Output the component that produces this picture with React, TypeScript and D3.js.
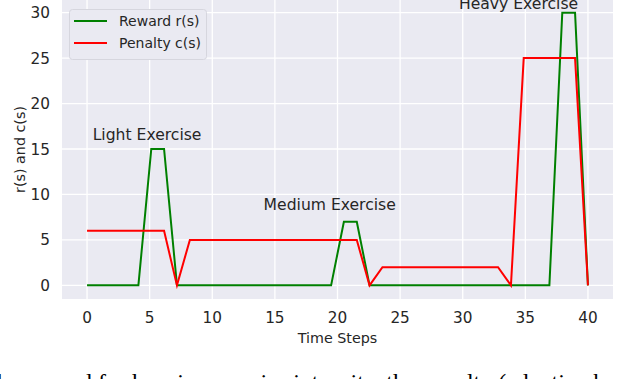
import { useEffect, useRef } from 'react';
import * as d3 from 'd3';

// time axis: 40 samples spread evenly over 0..40
const timeSteps = [
  0, 1.03, 2.05, 3.08, 4.1, 5.13, 6.15, 7.18, 8.21, 9.23,
  10.26, 11.28, 12.31, 13.33, 14.36, 15.38, 16.41, 17.44, 18.46, 19.49,
  20.51, 21.54, 22.56, 23.59, 24.62, 25.64, 26.67, 27.69, 28.72, 29.74,
  30.77, 31.79, 32.82, 33.85, 34.87, 35.9, 36.92, 37.95, 38.97, 40,
];

const reward = [
  0, 0, 0, 0, 0, 15, 15, 0, 0, 0,
  0, 0, 0, 0, 0, 0, 0, 0, 0, 0,
  7, 7, 0, 0, 0, 0, 0, 0, 0, 0,
  0, 0, 0, 0, 0, 0, 0, 30, 30, 0,
];

const penalty = [
  6, 6, 6, 6, 6, 6, 6, 0, 5, 5,
  5, 5, 5, 5, 5, 5, 5, 5, 5, 5,
  5, 5, 0, 2, 2, 2, 2, 2, 2, 2,
  2, 2, 2, 0, 25, 25, 25, 25, 25, 0,
];

const seriesNames = ['Reward r(s)', 'Penalty c(s)'];
const seriesColors = ['#008000', '#ff0000'];

const annotationLabels = ['Light Exercise', 'Medium Exercise', 'Heavy Exercise'];
const annotationX = [0.45, 14.1, 29.7];
const annotationY = [16, 8.25, 30.45];

const xTicks = [0, 5, 10, 15, 20, 25, 30, 35, 40];
const yTicks = [0, 5, 10, 15, 20, 25, 30];

const font = '"DejaVu Sans", sans-serif';

const App = () => {
  const svgRef = useRef<SVGSVGElement>(null);

  useEffect(() => {
    const svg = d3.select(svgRef.current);
    svg.selectAll('*').remove();

    const left = 62, right = 613, top = -1, bottom = 299;

    const x = d3.scaleLinear().domain([-2, 42]).range([left, right]);
    const y = d3.scaleLinear().domain([-1.5, 31.5]).range([bottom, top]);

    svg.append('rect')
      .attr('width', 640).attr('height', 379).attr('fill', '#fff');

    // axes background
    svg.append('rect')
      .attr('x', left).attr('y', top)
      .attr('width', right - left).attr('height', bottom - top)
      .attr('fill', '#EAEAF2');

    // grid
    const grid = svg.append('g').attr('stroke', '#fff').attr('stroke-width', 1.3);
    xTicks.forEach(t => {
      grid.append('line')
        .attr('x1', x(t)).attr('x2', x(t))
        .attr('y1', top).attr('y2', bottom);
    });
    yTicks.forEach(t => {
      grid.append('line')
        .attr('x1', left).attr('x2', right)
        .attr('y1', y(t)).attr('y2', y(t));
    });

    // tick labels
    svg.append('g')
      .selectAll('text')
      .data(xTicks)
      .join('text')
      .attr('x', d => x(d))
      .attr('y', 323)
      .attr('text-anchor', 'middle')
      .attr('font-family', font)
      .attr('font-size', 15.3)
      .attr('fill', '#262626')
      .text(d => d);

    svg.append('g')
      .selectAll('text')
      .data(yTicks)
      .join('text')
      .attr('x', 50)
      .attr('y', d => y(d))
      .attr('dy', '0.36em')
      .attr('text-anchor', 'end')
      .attr('font-family', font)
      .attr('font-size', 15.3)
      .attr('fill', '#262626')
      .text(d => d);

    // axis labels
    svg.append('text')
      .attr('x', (left + right) / 2)
      .attr('y', 343)
      .attr('text-anchor', 'middle')
      .attr('font-family', font)
      .attr('font-size', 14.3)
      .attr('fill', '#262626')
      .text('Time Steps');

    svg.append('text')
      .attr('transform', `translate(25, ${(0 + bottom) / 2}) rotate(-90)`)
      .attr('text-anchor', 'middle')
      .attr('font-family', font)
      .attr('font-size', 14.3)
      .attr('fill', '#262626')
      .text('r(s) and c(s)');

    // lines
    const line = d3.line<number>()
      .x((_, i) => x(timeSteps[i]))
      .y(d => y(d));

    [reward, penalty].forEach((values, i) => {
      svg.append('path')
        .datum(values)
        .attr('d', line)
        .attr('fill', 'none')
        .attr('stroke', seriesColors[i])
        .attr('stroke-width', 2)
        .attr('stroke-linejoin', 'miter');
    });

    // annotations
    annotationLabels.forEach((label, i) => {
      svg.append('text')
        .attr('x', x(annotationX[i]))
        .attr('y', y(annotationY[i]))
        .attr('font-family', font)
        .attr('font-size', 15.6)
        .attr('fill', '#262626')
        .text(label);
    });

    // legend
    const legend = svg.append('g');
    legend.append('rect')
      .attr('x', 69.5).attr('y', 9.5)
      .attr('width', 137).attr('height', 50)
      .attr('rx', 3)
      .attr('fill', '#EAEAF2')
      .attr('stroke', '#d6d6de')
      .attr('stroke-width', 1);
    seriesNames.forEach((name, i) => {
      const ly = 21 + i * 22;
      legend.append('line')
        .attr('x1', 74).attr('x2', 107)
        .attr('y1', ly).attr('y2', ly)
        .attr('stroke', seriesColors[i])
        .attr('stroke-width', 2);
      legend.append('text')
        .attr('x', 119)
        .attr('y', ly)
        .attr('dy', '0.36em')
        .attr('font-family', font)
        .attr('font-size', 14)
        .attr('fill', '#262626')
        .text(name);
    });

    // caption from the paper, cut off by the crop
    svg.append('text')
      .attr('x', -10)
      .attr('y', 389.5)
      .attr('font-family', '"Liberation Serif", serif')
      .attr('font-size', 24)
      .attr('fill', '#000')
      .text('the reward for heavier exercise intensity, the penalty (adaptive based on');
  }, []);

  return (
    <svg
      ref={svgRef}
      width={640}
      height={379}
      viewBox="0 0 640 379"
      style={{ position: 'absolute', left: 0, top: 0 }}
    />
  );
};

export default App;
